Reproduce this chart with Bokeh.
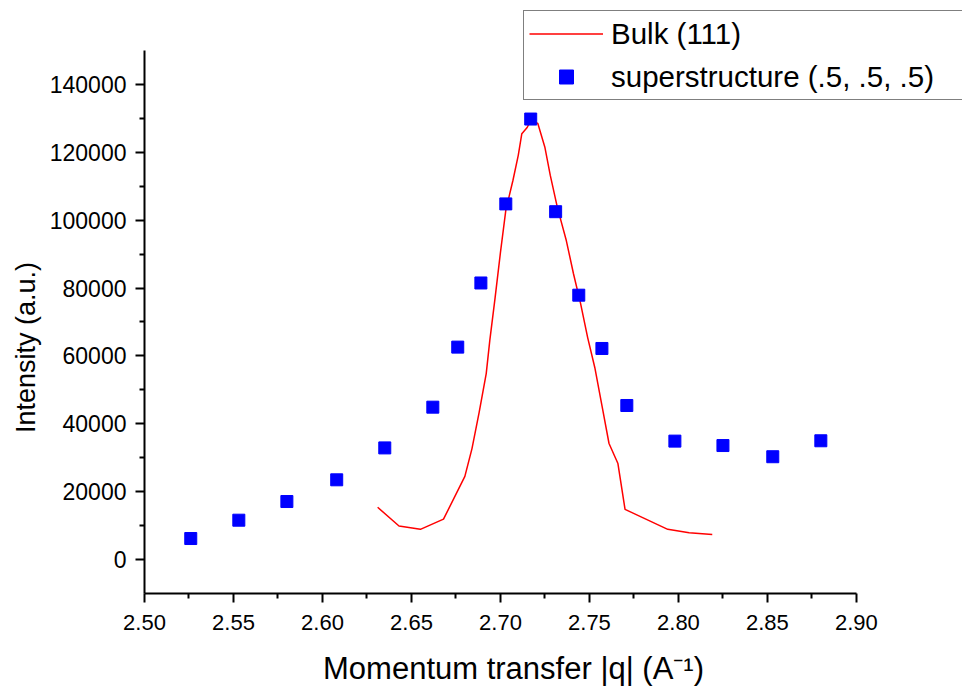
from bokeh.plotting import figure
from bokeh.models import (Legend, LegendItem, FixedTicker, NumeralTickFormatter,
                          Range1d, Label)
from bokeh.embed import file_html
from bokeh.resources import INLINE

# Bulk (111) reflection profile
bulk_q = [2.631, 2.643, 2.655, 2.668, 2.680, 2.684, 2.688, 2.692, 2.694, 2.697,
          2.700, 2.703, 2.707, 2.710, 2.712, 2.715, 2.717, 2.721, 2.725, 2.728,
          2.732, 2.737, 2.741, 2.745, 2.749, 2.753, 2.757, 2.761, 2.766, 2.770,
          2.794, 2.806, 2.819]
bulk_I = [15400, 9900, 8900, 11900, 24500, 32700, 43300, 54800, 64500, 77200,
          90500, 102900, 111700, 119100, 125500, 127300, 129400, 128500, 121400, 113200,
          103700, 94000, 84300, 75500, 65400, 56600, 45400, 34200, 28300, 14800,
          8900, 7900, 7400]

# Superstructure (.5, .5, .5) points
sup_q = [2.526, 2.553, 2.580, 2.608, 2.635, 2.662, 2.676, 2.689, 2.703, 2.717,
         2.731, 2.744, 2.757, 2.771, 2.798, 2.825, 2.853, 2.880]
sup_I = [6200, 11600, 17100, 23500, 32900, 44900, 62600, 81500, 104800, 129800,
         102500, 77900, 62200, 45400, 34900, 33600, 30300, 35000]

x_ticks = [2.50, 2.55, 2.60, 2.65, 2.70, 2.75, 2.80, 2.85, 2.90]
y_ticks = [0, 20000, 40000, 60000, 80000, 100000, 120000, 140000]
x_bounds = (2.50, 2.90)
y_bounds = (-10000, 150000)
x_minor = [(a + b) / 2 for a, b in zip(x_ticks[:-1], x_ticks[1:])]
y_minor = [t + 10000 for t in y_ticks[:-1]]

x_title = "Momentum transfer |q| (A⁻¹)"
y_title = "Intensity (a.u.)"

FONT = "Liberation Sans"
W, H = 962, 688

# The frame fills the canvas; both axes are pinned (fixed_location) at the
# corner of their bounds, so the legend and titles can sit anywhere.
p = figure(width=W, height=H, output_backend="svg", toolbar_location=None,
           x_range=Range1d(2.419101, 2.959596), y_range=Range1d(-37993, 164733),
           min_border_left=0, min_border_right=0,
           min_border_top=0, min_border_bottom=0)
p.outline_line_color = None
p.grid.visible = False
p.background_fill_color = "white"
p.border_fill_color = "white"

r1 = p.line(bulk_q, bulk_I, line_color="#FF0000", line_width=1.5)
r2 = p.scatter(sup_q, sup_I, marker="square", size=12,
               fill_color="#0000FF", line_color="#0000FF", line_width=1)

for ax in (p.xaxis[0], p.yaxis[0]):
    ax.axis_line_width = 2
    ax.axis_line_color = "black"
    ax.major_tick_line_width = 2
    ax.minor_tick_line_width = 2
    ax.major_tick_line_color = "black"
    ax.minor_tick_line_color = "black"
    ax.major_tick_in = 0
    ax.major_tick_out = 9
    ax.minor_tick_in = 0
    ax.minor_tick_out = 5
    ax.major_label_text_font = FONT
    ax.major_label_text_color = "black"

p.xaxis.bounds = x_bounds
p.yaxis.bounds = y_bounds
p.xaxis.fixed_location = y_bounds[0]
p.yaxis.fixed_location = x_bounds[0]
p.xaxis.ticker = FixedTicker(ticks=x_ticks, minor_ticks=x_minor)
p.yaxis.ticker = FixedTicker(ticks=y_ticks, minor_ticks=y_minor)
p.xaxis.formatter = NumeralTickFormatter(format="0.00")
p.yaxis.formatter = NumeralTickFormatter(format="0")
p.xaxis.major_label_text_font_size = "22px"
p.yaxis.major_label_text_font_size = "23px"
p.xaxis.major_label_standoff = 13
p.yaxis.major_label_standoff = 9

xt = Label(x=513, y=H - 668, x_units="screen", y_units="screen", text=x_title,
           text_align="center", text_baseline="middle", text_font=FONT,
           text_font_size="31px", text_color="black")
p.add_layout(xt)
yt = Label(x=25, y=H - 347, x_units="screen", y_units="screen", text=y_title,
           angle=90, angle_units="deg", text_align="center", text_baseline="middle",
           text_font=FONT, text_font_size="27px", text_color="black")
p.add_layout(yt)

legend = Legend(items=[LegendItem(label="Bulk (111)", renderers=[r1]),
                       LegendItem(label="superstructure (.5, .5, .5)", renderers=[r2])],
                location=(523, H - 100))
legend.label_text_font = FONT
legend.label_text_font_size = "29.5px"
legend.label_text_color = "black"
legend.glyph_width = 74
legend.glyph_height = 35
legend.label_height = 35
legend.label_width = 380
legend.label_standoff = 8
legend.padding = 5
legend.spacing = 8
legend.margin = 0
legend.border_line_color = "black"
legend.border_line_width = 1.5
legend.background_fill_color = "white"
legend.background_fill_alpha = 1
p.add_layout(legend, "center")

open("out.html", "w").write(file_html(p, INLINE))
